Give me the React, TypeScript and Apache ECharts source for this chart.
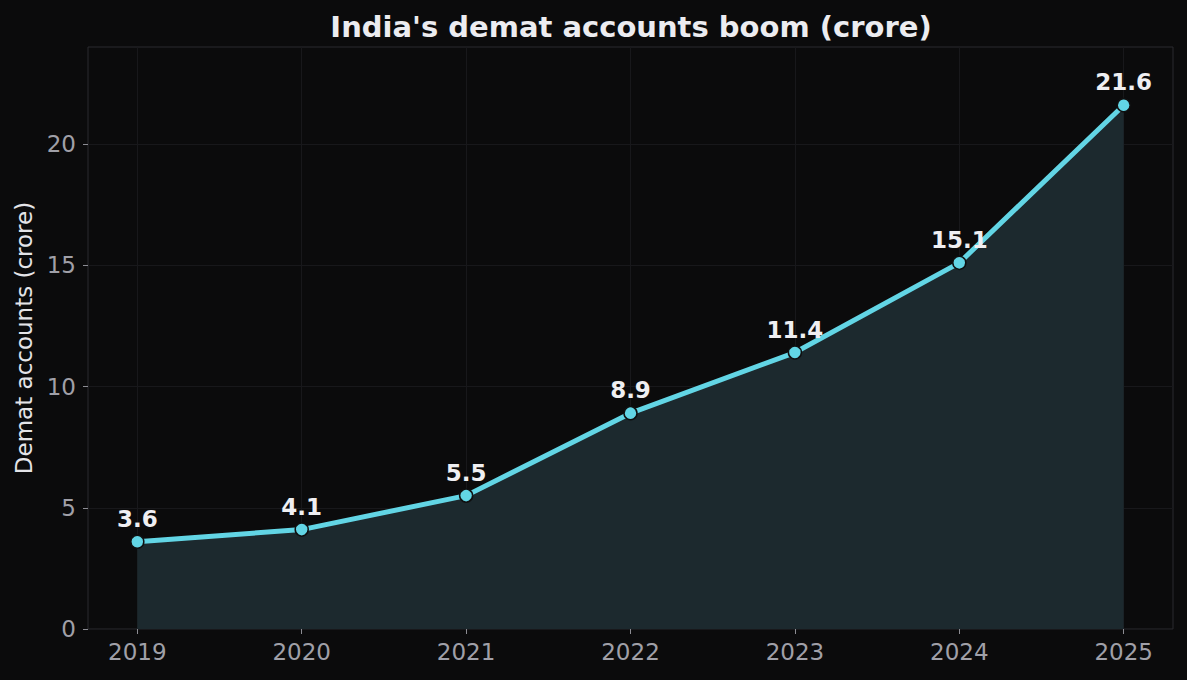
import { useEffect, useRef } from "react";
import * as echarts from "echarts";

// Demat accounts in India, in crore, by year
const years = [2019, 2020, 2021, 2022, 2023, 2024, 2025];
const accounts = [3.6, 4.1, 5.5, 8.9, 11.4, 15.1, 21.6];
const yTicks = [0, 5, 10, 15, 20];

const FONT = "DejaVu Sans";
const CYAN = "#62d5e5";

export default function App() {
  const ref = useRef<HTMLDivElement>(null);

  useEffect(() => {
    document.body.style.margin = "0";
    const chart = echarts.init(ref.current!, null, { renderer: "svg" });
    chart.setOption({
      animation: false,
      backgroundColor: "#0b0b0c",
      textStyle: { fontFamily: FONT },
      graphic: [
        {
          type: "text",
          x: 631,
          y: 27,
          style: {
            text: "India's demat accounts boom (crore)",
            fontFamily: FONT,
            fontSize: 29,
            fontWeight: "bold",
            fill: "#ececf0",
            textAlign: "center",
            textVerticalAlign: "middle",
          },
        },
      ],
      grid: {
        left: 88,
        top: 47,
        width: 1085,
        height: 582,
        show: true,
        backgroundColor: "#0b0b0c",
        borderColor: "#2a2a2f",
        borderWidth: 1,
      },
      xAxis: {
        type: "value",
        min: 2018.7,
        max: 2025.3,
        axisLine: { show: false },
        axisTick: {
          show: true,
          length: 5,
          customValues: years,
          lineStyle: { color: "#8c8c93", width: 1 },
        },
        axisLabel: {
          customValues: years,
          formatter: (v: number) => String(v),
          color: "#a0a0a8",
          fontSize: 23,
          fontFamily: FONT,
          margin: 11,
        },
        splitLine: { show: true, lineStyle: { color: "#18181b", width: 1 } },
      },
      yAxis: {
        type: "value",
        min: 0,
        max: 24,
        name: "Demat accounts (crore)",
        nameLocation: "middle",
        nameGap: 52,
        nameTextStyle: { color: "#e4e4e8", fontSize: 23, fontFamily: FONT },
        axisLine: { show: false },
        axisTick: {
          show: true,
          length: 5,
          customValues: yTicks,
          lineStyle: { color: "#8c8c93", width: 1 },
        },
        axisLabel: {
          customValues: yTicks,
          color: "#a0a0a8",
          fontSize: 23,
          fontFamily: FONT,
          margin: 12,
        },
        splitLine: { show: true, lineStyle: { color: "#18181b", width: 1 } },
      },
      series: [
        {
          type: "line",
          data: years.map((y, i) => [y, accounts[i]]),
          symbol: "circle",
          symbolSize: 13,
          lineStyle: { color: CYAN, width: 5 },
          itemStyle: { color: CYAN, borderColor: "#0f0f10", borderWidth: 1.5 },
          areaStyle: { color: "#1c292e", opacity: 1 },
          label: {
            show: true,
            position: "top",
            distance: 4,
            formatter: (p: any) => p.value[1].toFixed(1),
            color: "#efeff2",
            fontSize: 23,
            fontWeight: "bold",
            fontFamily: FONT,
          },
          z: 3,
        },
      ],
    });
    return () => chart.dispose();
  }, []);

  return <div ref={ref} style={{ width: 1187, height: 680 }} />;
}
